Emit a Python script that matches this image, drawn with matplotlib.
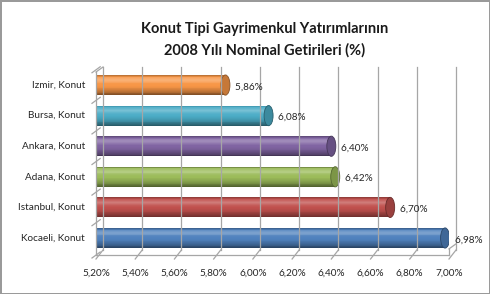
import numpy as np
import matplotlib.pyplot as plt
import matplotlib.colors as mcolors
from matplotlib.patches import Ellipse

cities = ['Kocaeli, Konut', 'Istanbul, Konut', 'Adana, Konut', 'Ankara, Konut', 'Bursa, Konut', 'Izmir, Konut']
values = [6.98, 6.70, 6.42, 6.40, 6.08, 5.86]
colors = ['#4F81BD', '#C0504D', '#9BBB59', '#8064A2', '#4BACC6', '#F79646']
xticks = [5.2, 5.4, 5.6, 5.8, 6.0, 6.2, 6.4, 6.6, 6.8, 7.0]

plt.rcParams['font.family'] = ['Lato', 'DejaVu Sans']

W, H = 490, 294
fig = plt.figure(figsize=(W / 100, H / 100), dpi=100)
fig.patch.set_edgecolor('#9a9a9a')
fig.patch.set_linewidth(2)

# axes: x 5.2..7.0 -> px 96..449, y floor px 255, top px 67
x0, x1 = 96, 449
yb, yt = 255, 67
ax = fig.add_axes([x0 / W, (H - yb) / H, (x1 - x0) / W, (yb - yt) / H])
ax.set_xlim(5.2, 7.0)
ax.set_ylim(-0.556, 5.59)
ax.axis('off')

px_x = 1.8 / (x1 - x0)          # data per pixel, x
px_y = 6.146 / (yb - yt)        # data per pixel, y
dx, dy = 7 * px_x, 5 * px_y     # depth offset of back wall
grid_c = '#a6a6a6'

# back wall grid lines + floor ticks
for t in xticks:
    ax.plot([t + dx, t + dx], [-0.556 + dy, 5.59], color=grid_c, lw=0.9, clip_on=False)
    ax.plot([t, t + dx], [-0.556 - 4 * px_y, -0.556 + dy], color=grid_c, lw=0.9, clip_on=False)
ax.plot([5.2, 7.0], [-0.556, -0.556], color=grid_c, lw=0.9, clip_on=False)
# left wall
ax.plot([5.2, 5.2], [-0.556, 5.59 - dy], color=grid_c, lw=0.9, clip_on=False)
ax.plot([5.2, 5.2 + dx], [5.59 - dy, 5.59], color=grid_c, lw=0.9, clip_on=False)
ax.plot([7.0, 7.0], [-0.556, -0.356], color=grid_c, lw=0.9, clip_on=False)
ax.plot([7.0, 7.0 + dx], [-0.356, -0.356 + dy], color=grid_c, lw=0.9, clip_on=False)
for k in range(len(cities) + 1):
    yy = k - 0.5 - 0.056 if k == 0 else k - 0.5
    ax.plot([5.2 - 4 * px_x, 5.2 + dx * 0.6], [yy - 3 * px_y, yy + dy * 0.6], color=grid_c, lw=0.9, clip_on=False)


def shade(c, f):
    c = np.array(mcolors.to_rgb(c))
    if f >= 0:
        return tuple(c + (1 - c) * f)
    return tuple(c * (1 + f))


bar_h = 0.66
cap_w = 9 * px_x
n = 24
for i, (v, c) in enumerate(zip(values, colors)):
    edges = np.linspace(-bar_h / 2, bar_h / 2, n + 1)
    for j in range(n):
        t = (edges[j] + edges[j + 1]) / 2 / (bar_h / 2)   # -1 bottom .. 1 top
        f = 0.25 * np.exp(-((t - 0.5) / 0.25) ** 2) - 0.5 * max(0, -t) ** 1.6 - 0.3 * max(0, t - 0.8) * 5
        ax.barh(i + edges[j], v - 5.2, left=5.2, height=edges[j + 1] - edges[j],
                align='edge', color=shade(c, f), linewidth=0)
    ax.add_patch(Ellipse((v, i), cap_w, bar_h, facecolor=shade(c, -0.2),
                         edgecolor=shade(c, -0.45), lw=0.6))
    ax.text(v + cap_w / 2, i - 0.06, '  ' + f'{v:.2f}'.replace('.', ',') + '%',
            fontsize=7.2, color='#262626', va='center', ha='left', clip_on=False)

# category labels
for i, name in enumerate(cities):
    ax.text(5.2 - 11 * px_x, i, name, fontsize=7.2, color='#262626', ha='right', va='center')

# x tick labels
for t in xticks:
    ax.text(t, -0.556 - 18 * px_y, f'{t:.2f}'.replace('.', ',') + '%', fontsize=7.2,
            color='#262626', ha='center', va='center')

fig.text(265 / W, 1 - 29 / H, 'Konut Tipi Gayrimenkul Yatırımlarının', fontsize=10.5,
         fontweight='bold', ha='center', va='center', color='#1a1a1a')
fig.text(265 / W, 1 - 50 / H, '2008 Yılı Nominal Getirileri (%)', fontsize=10.5,
         fontweight='bold', ha='center', va='center', color='#1a1a1a')

fig.savefig('out.png', dpi=100, edgecolor=fig.get_edgecolor())
